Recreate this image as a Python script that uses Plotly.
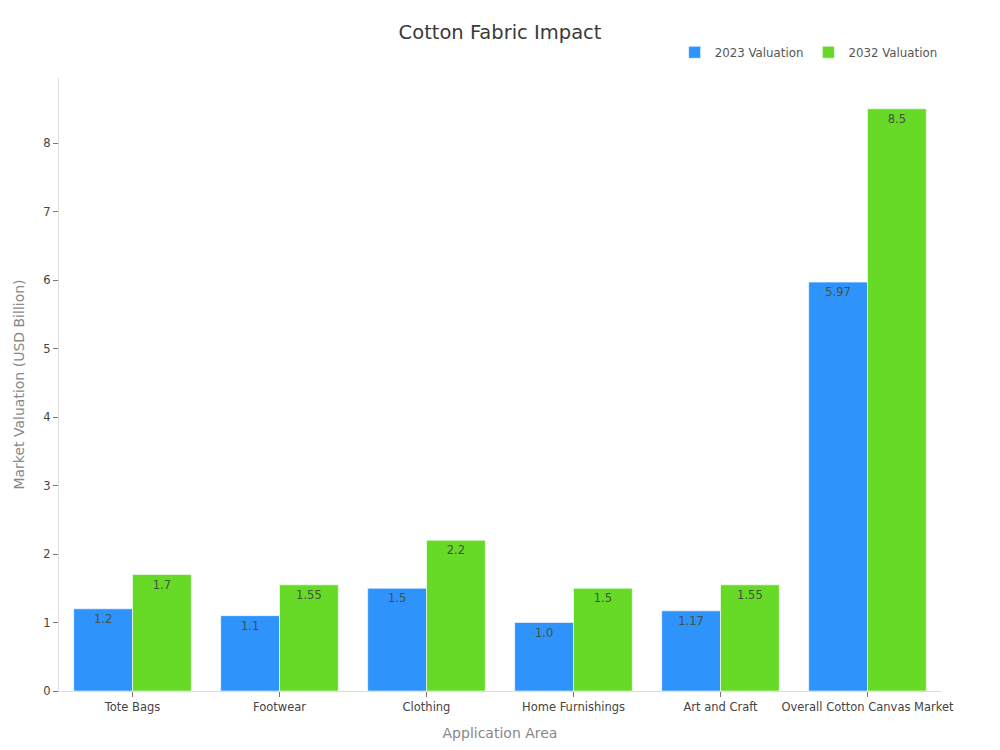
import plotly.graph_objects as go

categories = ["Tote Bags", "Footwear", "Clothing", "Home Furnishings", "Art and Craft", "Overall Cotton Canvas Market"]
valuation_2023 = [1.2, 1.1, 1.5, 1.0, 1.17, 5.97]
valuation_2032 = [1.7, 1.55, 2.2, 1.5, 1.55, 8.5]
labels_2023 = ["1.2", "1.1", "1.5", "1.0", "1.17", "5.97"]
labels_2032 = ["1.7", "1.55", "2.2", "1.5", "1.55", "8.5"]
y_ticks = [0, 1, 2, 3, 4, 5, 6, 7, 8]

FONT = "DejaVu Sans"
BLUE = "#2e93fa"
GREEN = "#66da26"

fig = go.Figure()
for name, values, labels, color in [
    ("2023 Valuation", valuation_2023, labels_2023, BLUE),
    ("2032 Valuation", valuation_2032, labels_2032, GREEN),
]:
    fig.add_trace(go.Bar(
        x=categories,
        y=values,
        name=name,
        text=labels,
        textposition="inside",
        insidetextanchor="end",
        textangle=0,
        textfont=dict(family=FONT, size=11.5, color="#43533f"),
        marker=dict(color=color, line=dict(color="rgba(255,255,255,0.6)", width=1)),
    ))

# the page body adds an 8px margin, so the figure is a bit smaller than the window
fig.update_layout(
    width=992,
    height=742,
    barmode="group",
    bargap=0.2,
    bargroupgap=0,
    paper_bgcolor="white",
    plot_bgcolor="white",
    font=dict(family=FONT, size=12, color="#444444"),
    margin=dict(l=50.5, r=58.5, t=70, b=59, autoexpand=False),
    title=dict(text="Cotton Fabric Impact", x=0.496, xanchor="center", y=0.9677, yanchor="middle",
               font=dict(family=FONT, size=19.5, color="#3a3a3a")),
    legend=dict(orientation="h", x=0.698, xanchor="left", y=1.042, yanchor="middle",
                font=dict(family=FONT, size=11.8, color="#555555"), traceorder="normal",
                itemwidth=30),
)
fig.update_xaxes(
    title=dict(text="Application Area", font=dict(family=FONT, size=14, color="#888888"), standoff=15),
    showline=True, linecolor="#dddddd", linewidth=1,
    ticks="outside", ticklen=5, tickcolor="#777777",
    showgrid=False, tickfont=dict(family=FONT, size=11.5, color="#444444"),
)
fig.update_yaxes(
    title=dict(text="Market Valuation (USD Billion)", font=dict(family=FONT, size=14, color="#888888"), standoff=15),
    range=[0, 8.95], tickvals=y_ticks,
    showline=True, linecolor="#dddddd", linewidth=1,
    ticks="outside", ticklen=5, tickcolor="#777777",
    showgrid=False, zeroline=False, tickfont=dict(family=FONT, size=11.5, color="#444444"),
)

fig.write_html("out.html")
